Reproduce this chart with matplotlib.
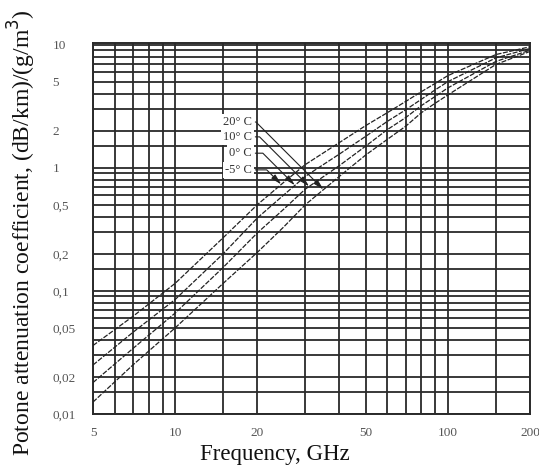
import numpy as np
import matplotlib
matplotlib.use("Agg")
import matplotlib.pyplot as plt
from matplotlib.ticker import FixedLocator, NullFormatter

# ---- data ----
freq = [5, 7, 10, 15, 20, 25, 30, 40, 50, 60, 70, 80, 90, 100, 150, 200]
coef_m5 = [0.036, 0.062, 0.115, 0.27, 0.50, 0.76, 1.06, 1.60, 2.20, 2.80, 3.45, 4.15, 4.85, 5.60, 8.30, 9.60]
coef_0 = [0.025, 0.046, 0.085, 0.20, 0.39, 0.60, 0.85, 1.29, 1.80, 2.38, 2.95, 3.60, 4.30, 5.00, 7.80, 9.30]
coef_10 = [0.018, 0.034, 0.066, 0.155, 0.295, 0.46, 0.67, 1.04, 1.50, 2.04, 2.55, 3.20, 3.80, 4.45, 7.30, 9.00]
coef_20 = [0.0125, 0.025, 0.050, 0.115, 0.205, 0.33, 0.50, 0.85, 1.27, 1.70, 2.17, 2.80, 3.35, 3.90, 6.90, 8.80]
series_labels = ["-5° C", "0° C", "10° C", "20° C"]
arrow_freq = [24.5, 27.5, 31.0, 35.0]

x_ticks = [5, 10, 20, 50, 100, 200]
x_ticklabels = ["5", "10", "20", "50", "100", "200"]
y_ticks = [0.01, 0.02, 0.05, 0.1, 0.2, 0.5, 1, 2, 5, 10]
y_ticklabels = ["0,01", "0,02", "0,05", "0,1", "0,2", "0,5", "1", "2", "5", "10"]
grid_mult = [1, 1.5, 2, 3, 4, 5, 6, 7, 8, 9]

serif = ["Liberation Serif", "DejaVu Serif"]

fig = plt.figure(figsize=(5.39, 4.68), dpi=100)
ax = fig.add_axes([93 / 539, 1 - 414 / 468, 437 / 539, 371 / 468])
ax.set_xscale("log")
ax.set_yscale("log")
ax.set_xlim(5, 200)
ax.set_ylim(0.01, 10.3)

# grid lines
xg = [m * 10 ** k for k in range(0, 3) for m in grid_mult]
xg = [v for v in xg if 5 <= v <= 200]
yg = [m * 10 ** k for k in range(-2, 2) for m in grid_mult]
yg = [v for v in yg if 0.01 <= v <= 10]
ax.xaxis.set_major_locator(FixedLocator(x_ticks))
ax.xaxis.set_minor_locator(FixedLocator(xg))
ax.yaxis.set_major_locator(FixedLocator(y_ticks))
ax.yaxis.set_minor_locator(FixedLocator(yg))
ax.xaxis.set_minor_formatter(NullFormatter())
ax.yaxis.set_minor_formatter(NullFormatter())
ax.set_xticklabels(x_ticklabels)
ax.set_yticklabels(y_ticklabels)
ax.grid(True, which="both", color="#2a2a2a", lw=1.3)
ax.set_axisbelow(True)
for s in ax.spines.values():
    s.set_color("#2a2a2a")
    s.set_linewidth(1.4)

ax.tick_params(which="both", length=0)
ax.tick_params(axis="x", pad=9, labelsize=9.5, labelcolor="#555555")
ax.tick_params(axis="y", pad=29, labelsize=9.5, labelcolor="#555555")
for lab in ax.get_xticklabels() + ax.get_yticklabels():
    lab.set_fontfamily(serif)
for lab in ax.get_yticklabels():
    lab.set_horizontalalignment("left")

# curves
all_series = [coef_m5, coef_0, coef_10, coef_20]
for vals in all_series:
    ax.plot(freq, vals, color="#222222", lw=0.9, ls=(0, (4, 1.2)), zorder=3)

# labels with leader arrows
label_pos = [(0.364, 0.658), (0.364, 0.703), (0.364, 0.747), (0.364, 0.787)]
for lab, vals, fa, pos in zip(series_labels, all_series, arrow_freq, label_pos):
    va = 10 ** np.interp(np.log10(fa), np.log10(freq), np.log10(vals))
    ax.annotate(lab, xy=(fa, va), xycoords="data", xytext=pos, textcoords="axes fraction",
                ha="right", va="center", fontsize=9, family=serif, color="#333333",
                bbox=dict(boxstyle="square,pad=0.15", fc="white", ec="none"),
                arrowprops=dict(arrowstyle="-|>,head_length=0.7,head_width=0.18",
                                color="#222222", lw=0.8, relpos=(1, 0.5),
                                connectionstyle="angle,angleA=0,angleB=-45,rad=0",
                                shrinkA=1, shrinkB=0),
                zorder=5)

ax.set_xlabel("Frequency, GHz", fontsize=16.5, family=serif, color="#111111")
ax.xaxis.set_label_coords((275 - 93) / 437, -0.082)
ax.set_ylabel("Potone attenuation coefficient, (dB/km)/(g/m$^3$)", fontsize=17,
              family=serif, color="#111111")
ax.yaxis.set_label_coords((38 - 93) / 437, 0.49)

fig.savefig("out.png", dpi=100)
